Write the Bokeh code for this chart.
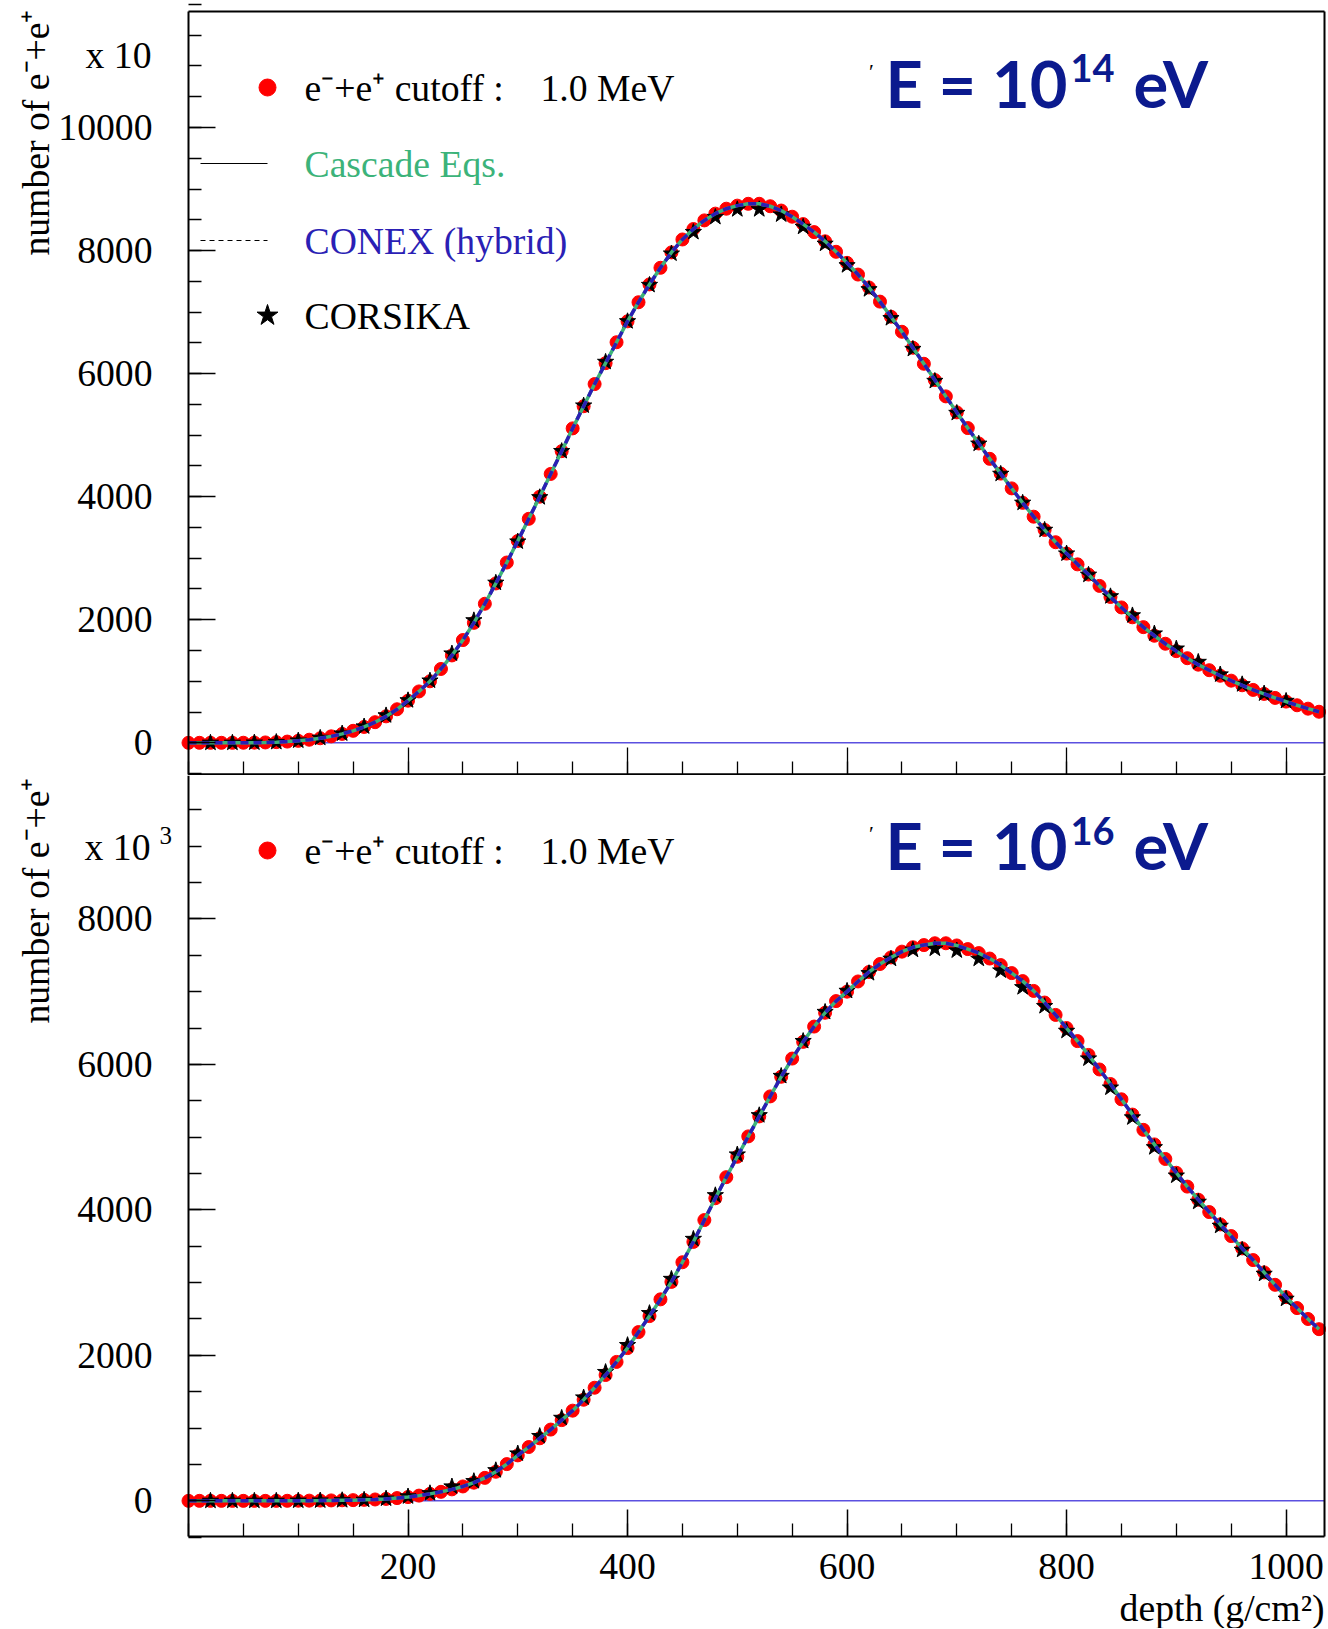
import math
from bokeh.plotting import figure
from bokeh.layouts import column
from bokeh.models import FixedTicker, Label, PrintfTickFormatter, Range1d, LinearAxis
from bokeh.embed import file_html
from bokeh.resources import INLINE

# ---------------- data ----------------
depth_fine = list(range(0, 1031, 10))
depth_star = list(range(20, 1001, 20))

# E = 1e14 eV (units of 10)
top_n = [0, 0, 0, 0, 0, 1, 3, 6, 11, 20,
         32, 50, 74, 105, 145, 195, 258, 335, 430, 545,
         685, 835, 1000, 1200, 1420, 1670, 1950, 2260, 2590, 2930,
         3280, 3640, 4000, 4370, 4740, 5110, 5470, 5830, 6170, 6510,
         6850, 7160, 7450, 7720, 7970, 8180, 8350, 8490, 8600, 8680,
         8730, 8760, 8760, 8720, 8650, 8550, 8430, 8300, 8150, 7980,
         7800, 7610, 7400, 7170, 6925, 6680, 6420, 6160, 5895, 5630,
         5370, 5115, 4865, 4615, 4375, 4135, 3900, 3675, 3460, 3260,
         3075, 2900, 2735, 2550, 2370, 2200, 2040, 1880, 1740, 1610,
         1490, 1375, 1270, 1180, 1090, 1010, 935, 860, 795, 730,
         670, 610, 555, 505]
top_star = [0, 0, 3, 12, 35, 80, 150, 265, 445, 690,
            1010, 1450, 1990, 2600, 3270, 3990, 4740, 5480, 6190, 6850,
            7440, 7950, 8300, 8545, 8670, 8670, 8585, 8385, 8110, 7760,
            7370, 6900, 6400, 5880, 5360, 4860, 4370, 3900, 3460, 3075,
            2730, 2380, 2070, 1775, 1530, 1314, 1110, 950, 800, 680]

# E = 1e16 eV (units of 10^3)
bot_n = [0, 0, 0, 0, 0, 0, 0, 0, 0, 1,
         2, 3, 4, 6, 8, 10, 14, 19, 27, 38,
         52, 72, 96, 124, 158, 198, 250, 316, 400, 505,
         625, 740, 860, 980, 1110, 1240, 1390, 1555, 1730, 1910,
         2100, 2320, 2540, 2770, 3010, 3280, 3560, 3860, 4160, 4450,
         4730, 5010, 5285, 5560, 5830, 6080, 6310, 6520, 6710, 6870,
         7000, 7140, 7270, 7380, 7470, 7550, 7610, 7640, 7665, 7665,
         7635, 7585, 7530, 7455, 7365, 7255, 7145, 7010, 6850, 6680,
         6500, 6320, 6130, 5930, 5730, 5520, 5310, 5100, 4900, 4700,
         4510, 4320, 4140, 3970, 3800, 3640, 3470, 3310, 3140, 2970,
         2800, 2650, 2500, 2360]
bot_star = [0, 0, 0, 0, 2, 4, 8, 14, 30, 60,
            104, 197, 270, 420, 650, 890, 1140, 1420, 1770, 2140,
            2580, 3050, 3600, 4200, 4760, 5300, 5840, 6320, 6720, 7010,
            7253, 7451, 7575, 7590, 7565, 7451, 7290, 7060, 6800, 6460,
            6080, 5680, 5270, 4860, 4470, 4110, 3780, 3450, 3120, 2777]

x_major = [200, 400, 600, 800, 1000]
x_minor = list(range(0, 1051, 50))
top_y_major = [0, 2000, 4000, 6000, 8000, 10000]
bot_y_major = [0, 2000, 4000, 6000, 8000]
y_minor = list(range(-500, 12001, 500))

legend_labels = ["e\u207b+e\u207a cutoff :", "1.0 MeV", "Cascade Eqs.", "CONEX (hybrid)", "CORSIKA"]
y_title = "number of e\u207b+e\u207a"
x_title = "depth (g/cm\u00b2)"

# ---------------- style ----------------
SERIF = "Liberation Serif"
FS = "37.7px"
TITLE_FONT = "Lato"
RED = "#ff0000"
GREEN = "#3cb37a"
BLUE = "#2b1fb5"
ZERO = "#5b50e0"
NAVY = "#0b1a8e"

W = 1328
H_TOP, H_BOT = 775, 853
X0, X1 = 0, 1035            # plot box in data
FL, FW = 188, 1136          # plot box in page pixels
T_Y0, T_Y1, T_TOP, T_H = -515, 11885, 11, 763
B_Y0, B_Y1, B_TOP, B_H = -490, 9985, 774, 762


def tx(px):
    return X0 + (px - FL) / FW * (X1 - X0)


def ty1(py):
    return T_Y1 - (py - T_TOP) / T_H * (T_Y1 - T_Y0)


def ty2(py):
    return B_Y1 - (py - B_TOP) / B_H * (B_Y1 - B_Y0)


def tick_axis(loc, bounds, ticker, tin=27, mtin=13, standoff=0):
    return LinearAxis(fixed_location=loc, bounds=bounds, ticker=ticker,
                      axis_line_width=2, axis_line_color="black",
                      major_tick_in=tin, major_tick_out=0, minor_tick_in=mtin, minor_tick_out=0,
                      major_tick_line_width=1.5, minor_tick_line_width=1.3,
                      major_tick_line_color="black", minor_tick_line_color="black",
                      major_label_text_font=SERIF, major_label_text_font_size=FS,
                      major_label_text_color="black", major_label_standoff=standoff,
                      formatter=PrintfTickFormatter(format="%d"))


def make_fig(height, ty, page_top, page_bot, y0, y1, ymajor, xlabels, top_edge):
    p = figure(width=W, height=height,
               x_range=Range1d(tx(0), tx(W)), y_range=Range1d(ty(page_bot), ty(page_top)),
               output_backend="svg", toolbar_location=None,
               x_axis_location=None, y_axis_location=None,
               min_border_left=0, min_border_right=0, min_border_top=0, min_border_bottom=0)
    p.grid.visible = False
    p.outline_line_color = None
    p.background_fill_color = "white"
    p.border_fill_color = "white"
    p.add_layout(tick_axis(X0, (y0, y1), FixedTicker(ticks=ymajor, minor_ticks=y_minor),
                           standoff=36), "left")
    if xlabels:
        p.add_layout(tick_axis(y0, (X0, X1), FixedTicker(ticks=x_major, minor_ticks=x_minor),
                               standoff=17), "below")
    else:
        p.add_layout(tick_axis(y0, (X0, X1), FixedTicker(ticks=[], minor_ticks=x_minor),
                               mtin=13), "below")
        p.add_layout(tick_axis(y0, (X0, X1), FixedTicker(ticks=[], minor_ticks=x_major),
                               mtin=27), "below")
    p.add_layout(tick_axis(X1, (y0, y1), FixedTicker(ticks=[]), tin=0, mtin=0), "right")
    if top_edge:
        p.add_layout(tick_axis(y1, (X0, X1), FixedTicker(ticks=[]), tin=0, mtin=0), "above")
    p.line([X0, X1], [0, 0], line_color=ZERO, line_width=1.5)
    return p


def add_curves(p, n, star):
    p.scatter(depth_fine, n, marker="circle", size=13, fill_color=RED, line_color=RED)
    p.scatter(depth_star, star, marker="star", size=17, fill_color="black", line_color="black")
    p.line(depth_fine, n, line_color=GREEN, line_width=3.5)
    p.line(depth_fine, n, line_color=BLUE, line_width=3.5, line_dash="8 5")


def lab(p, x, y, text, size=FS, color="black", align="left", baseline="middle",
        font=SERIF, style="normal", angle=0):
    p.add_layout(Label(x=x, y=y, text=text, text_font=font, text_font_size=size,
                       text_color=color, text_align=align, text_baseline=baseline,
                       text_font_style=style, angle=angle))


def add_title(p, ty, mid_py, sup_py, sup):
    lab(p, tx(871), ty(mid_py - 12), "\u2032", size="22px", color="black", align="center")
    lab(p, tx(1067), ty(mid_py), "E = 10", size="65px", color=NAVY, align="right",
        font=TITLE_FONT, style="bold")
    lab(p, tx(1070), ty(sup_py), sup, size="38px", color=NAVY,
        font=TITLE_FONT, style="bold")
    lab(p, tx(1133), ty(mid_py), "eV", size="65px", color=NAVY,
        font=TITLE_FONT, style="bold")


# ---------------- top panel ----------------
p1 = make_fig(H_TOP, ty1, 0, H_TOP, T_Y0, T_Y1, top_y_major, False, True)
add_curves(p1, top_n, top_star)

p1.scatter([tx(267)], [ty1(87)], marker="circle", size=17, fill_color=RED, line_color=RED)
p1.line([tx(200), tx(267)], [ty1(163), ty1(163)], line_color="black", line_width=1)
p1.line([tx(200), tx(267)], [ty1(240), ty1(240)], line_color="black", line_width=1, line_dash="5 4")
p1.scatter([tx(267)], [ty1(315)], marker="star", size=22, fill_color="black", line_color="black")
lab(p1, tx(304), ty1(87), legend_labels[0])
lab(p1, tx(540), ty1(87), legend_labels[1])
lab(p1, tx(304), ty1(163), legend_labels[2], color=GREEN)
lab(p1, tx(304), ty1(240), legend_labels[3], color=BLUE)
lab(p1, tx(304), ty1(315), legend_labels[4])
add_title(p1, ty1, 82.5, 67.5, "14")
lab(p1, tx(151), ty1(54), "x 10", align="right")
lab(p1, tx(35), ty1(9), y_title, align="right", angle=math.pi / 2)

# ---------------- bottom panel ----------------
p2 = make_fig(H_BOT, ty2, H_TOP, H_TOP + H_BOT, B_Y0, B_Y1, bot_y_major, True, False)
add_curves(p2, bot_n, bot_star)
p2.scatter([tx(267)], [ty2(850)], marker="circle", size=17, fill_color=RED, line_color=RED)
lab(p2, tx(304), ty2(850), legend_labels[0])
lab(p2, tx(540), ty2(850), legend_labels[1])
add_title(p2, ty2, 844.5, 830, "16")
lab(p2, tx(150), ty2(846), "x 10", align="right")
lab(p2, tx(159), ty2(835), "3", size="25px")
lab(p2, tx(35), ty2(777), y_title, align="right", angle=math.pi / 2)
lab(p2, tx(1324), ty2(1607), x_title, align="right")

layout = column(p1, p2, spacing=0)
open("out.html", "w").write(file_html(layout, INLINE))
